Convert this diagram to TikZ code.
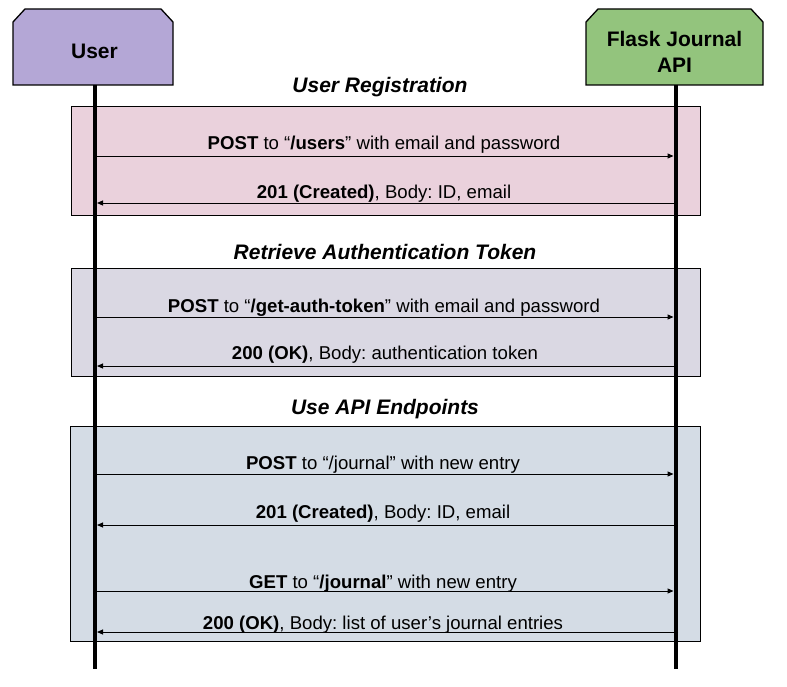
\documentclass[tikz,border=0pt]{standalone}
\usepackage{fontspec}
\setmainfont{Liberation Sans}
\usetikzlibrary{arrows.meta}
\frenchspacing
\definecolor{userfill}{HTML}{B4A7D6}
\definecolor{flaskfill}{HTML}{93C47D}
\definecolor{pinkbg}{HTML}{EAD1DC}
\definecolor{lavbg}{HTML}{DAD8E3}
\definecolor{bluebg}{HTML}{D4DCE5}
\tikzset{
  frame/.style={draw=black, line width=1bp, inner sep=0pt, outer sep=0pt},
  hdrshape/.style={draw=black, line width=1.3bp},
  hdrtext/.style={font=\fontsize{21bp}{26bp}\selectfont\bfseries, align=center, inner sep=0pt},
  sectitle/.style={font=\fontsize{21bp}{25bp}\selectfont\bfseries\itshape, anchor=base, inner sep=0pt},
  lbl/.style={font=\fontsize{18.6bp}{22bp}\selectfont\frenchspacing, anchor=base, inner sep=0pt},
  msg/.style={line width=1bp, -{Triangle[length=6bp,width=5bp]}},
  lifeline/.style={line width=4bp},
}
\begin{document}
\begin{tikzpicture}[x=1bp, y=-1bp]
\useasboundingbox (0,0) rectangle (787,687);
% section frames
\node[frame, fill=pinkbg, minimum width=628bp, minimum height=108bp] (reg) at (386,161) {};
\node[frame, fill=lavbg, minimum width=628bp, minimum height=108bp] (tok) at (386,322) {};
\node[frame, fill=bluebg, minimum width=630bp, minimum height=215bp] (api) at (385.5,533.5) {};
% headers
\draw[hdrshape, fill=userfill] (13,85) -- (13,22) -- (25,9) -- (161,9) -- (173,22) -- (173,85) -- cycle;
\draw[hdrshape, fill=flaskfill] (586,85) -- (586,22) -- (598,9) -- (751,9) -- (763,22) -- (763,85) -- cycle;
\node[hdrtext, anchor=base] (user) at (94.5,59) {User};
\node[hdrtext] (flask) at (674.5,52) {Flask Journal\\API};
% lifelines
\coordinate (utop) at (94.5,85);
\coordinate (ubot) at (94.5,669);
\coordinate (ftop) at (675.5,85);
\coordinate (fbot) at (675.5,669);
\draw[lifeline] (utop) -- (ubot);
\draw[lifeline] (ftop) -- (fbot);
% titles
\node[sectitle] (t1) at (380,93) {User Registration};
\node[sectitle] (t2) at (385,259) {Retrieve Authentication Token};
\node[sectitle] (t3) at (385,414) {Use API Endpoints};
% message endpoints
\foreach \n/\y in {1/156,2/203,3/317,4/366,5/474,6/525,7/591,8/632}{
  \coordinate (uL\n) at (96.5,\y);
  \coordinate (fL\n) at (673.5,\y);
  \coordinate (uR\n) at (97,\y);
  \coordinate (fR\n) at (678,\y);
}
\draw[msg] (uL1) -- (fL1);
\draw[msg] (fR2) -- (uR2);
\draw[msg] (uL3) -- (fL3);
\draw[msg] (fR4) -- (uR4);
\draw[msg] (uL5) -- (fL5);
\draw[msg] (fR6) -- (uR6);
\draw[msg] (uL7) -- (fL7);
\draw[msg] (fR8) -- (uR8);
% labels
\node[lbl] (m1) at (384,150) {\textbf{POST} to “\textbf{/users}” with email and password};
\node[lbl] (m2) at (384,198) {\textbf{201 (Created)}, Body: ID, email};
\node[lbl] (m3) at (384,312) {\textbf{POST} to “\textbf{/get-auth-token}” with email and password};
\node[lbl] (m4) at (385,359) {\textbf{200 (OK)}, Body: authentication token};
\node[lbl] (m5) at (383,469) {\textbf{POST} to “/journal” with new entry};
\node[lbl] (m6) at (383,518) {\textbf{201 (Created)}, Body: ID, email};
\node[lbl] (m7) at (383,588) {\textbf{GET} to “\textbf{/journal}” with new entry};
\node[lbl] (m8) at (383,629) {\textbf{200 (OK)}, Body: list of user’s journal entries};
\end{tikzpicture}
\end{document}
